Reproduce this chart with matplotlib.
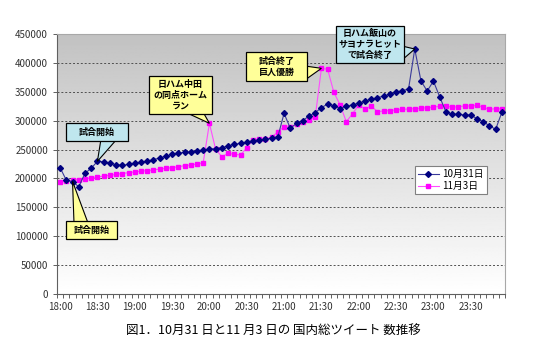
import numpy as np
import matplotlib
matplotlib.use('Agg')
import matplotlib.pyplot as plt
from matplotlib.patches import Rectangle, Polygon

plt.rcParams['font.family'] = ['Noto Sans CJK JP', 'DejaVu Sans']

# 5-minute slots from 18:00 to 23:55
tick_labels = ['18:00', '18:30', '19:00', '19:30', '20:00', '20:30',
               '21:00', '21:30', '22:00', '22:30', '23:00', '23:30']

oct31 = [218600, 197000, 194500, 185700, 209000, 217500, 229600, 229000,
         226200, 223800, 222500, 224400, 226200, 228000, 230000, 232500,
         235500, 238500, 241500, 244000, 245200, 246300, 248000, 248700,
         251000, 251500, 253300, 256200, 259100, 260800, 262800, 265400,
         266000, 268300, 269400, 272300, 312700, 286700, 295400, 300000,
         308100, 313800, 322500, 328800, 325900, 321000, 324800, 327600,
         330000, 334000, 336900, 339700, 342700, 345600, 349100, 351900,
         354800, 424000, 368700, 351300, 368500, 341500, 315600, 311000,
         311000, 309800, 309800, 303400, 298200, 291300, 285000, 314500]

nov3 = [193300, 195000, 196500, 198000, 199500, 201000, 202500, 204000,
        205500, 207000, 208500, 210000, 211200, 212500, 213600, 214600,
        216300, 217500, 218600, 220300, 222100, 223300, 225000, 227300,
        295400, 250400, 237600, 243500, 241800, 240600, 253000, 266500,
        267700, 268300, 271200, 280900, 289600, 288500, 293700, 297200,
        301200, 305800, 390600, 388900, 349000, 327500, 298200, 312000,
        327100, 320200, 325400, 315600, 316700, 317300, 318500, 319600,
        320200, 320700, 321400, 322500, 323500, 324800, 326000, 323100,
        324200, 325400, 325400, 326500, 323100, 319600, 320700, 320200]

x = np.arange(len(oct31))

W, H = 536, 361
fig = plt.figure(figsize=(W / 100, H / 100), dpi=100)
ax = fig.add_axes([0.1063, 0.1856, 0.8358, 0.7202])

# gray (top) to white (bottom) background
grad = np.linspace(0.76, 1.0, 256).reshape(-1, 1)
ax.imshow(grad, cmap='gray', vmin=0, vmax=1, aspect='auto',
          extent=[0, 1, 0, 1], transform=ax.transAxes, zorder=0)

for v in range(50000, 450000, 50000):
    ax.axhline(v, color='#505050', lw=0.7, ls=(0, (2, 2)), zorder=1)

ax.plot(x, oct31, color='#3a3a9a', lw=0.8, marker='D', ms=3,
        mfc='#000080', mec='#000080', label='10月31日', zorder=3)
ax.plot(x, nov3, color='#ff4dff', lw=0.8, marker='s', ms=3,
        mfc='#ff00ff', mec='#ff00ff', label='11月3日', zorder=2)

ax.set_xlim(-0.5, len(x) - 0.5)
ax.set_ylim(0, 450000)
ax.set_yticks(range(0, 450001, 50000))
ax.set_yticklabels([str(v) for v in range(0, 450001, 50000)])
ax.set_xticks(range(0, len(x), 6))
ax.set_xticklabels(tick_labels)
ax.set_xticks(np.arange(-0.5, len(x), 1), minor=True)
ax.tick_params(axis='x', which='major', length=0, labelsize=7,
               labelcolor='#333333', pad=6)
ax.tick_params(axis='x', which='minor', length=3, color='#606060', width=0.7)
ax.tick_params(axis='y', length=3, labelsize=7, labelcolor='#333333',
               color='#606060', width=0.7)

for s in ['top', 'right']:
    ax.spines[s].set_color('#a8a8a8')
for s in ['left', 'bottom']:
    ax.spines[s].set_color('#606060')
for s in ax.spines.values():
    s.set_linewidth(0.8)

cyan = '#bfe6ee'
yellow = '#ffff99'

def px(x0, y0):
    return (x0 / W, 1 - y0 / H)

def callout(text, xy, box, base, color):
    # box = (left, top, right, bottom) px; base = two px points of the tail
    l, t, r, b = box
    tip = fig.transFigure.inverted().transform(ax.transData.transform(xy))
    fig.patches.append(Polygon([px(*base[0]), tuple(tip), px(*base[1])],
                               closed=True, transform=fig.transFigure,
                               fc=color, ec='black', lw=0.8, zorder=5))
    fig.patches.append(Rectangle(px(l, b), (r - l) / W, (b - t) / H,
                                 transform=fig.transFigure, fc=color,
                                 ec='black', lw=0.9, zorder=6))
    fig.text((l + r) / 2 / W, 1 - (t + b) / 2 / H, text, ha='center',
             va='center', fontsize=6.5, fontweight='bold', linespacing=1.25,
             zorder=7)

callout('試合開始', (6, oct31[6]), (66, 123, 128, 141),
        [(101, 139), (117, 139)], cyan)
callout('試合開始', (2, 195000), (66, 221, 117, 239),
        [(74, 223), (88, 223)], yellow)
callout('日ハム中田\nの同点ホーム\nラン', (24, nov3[24]), (149, 76, 212, 114),
        [(185, 112), (203, 112)], yellow)
callout('試合終了\n巨人優勝', (42, nov3[42]), (246, 52, 307, 81),
        [(305, 66), (305, 80)], yellow)
callout('日ハム飯山の\nサヨナラヒット\nで試合終了', (57, oct31[57]),
        (336, 26, 404, 63), [(402, 46), (402, 60)], cyan)

leg = ax.legend(loc='upper left', bbox_to_anchor=(0.774, 0.540),
                bbox_transform=fig.transFigure, fontsize=7, fancybox=False,
                edgecolor='#808080', framealpha=1, handlelength=2.2,
                borderpad=0.3, labelspacing=0.2, handletextpad=0.3,
                borderaxespad=0)
leg.get_frame().set_linewidth(0.8)

fig.text(0.51, 0.085, '図1．10月31 日と11 月3 日の 国内総ツイート 数推移',
         ha='center', va='center', fontsize=9)

fig.savefig('out.png', dpi=100)
